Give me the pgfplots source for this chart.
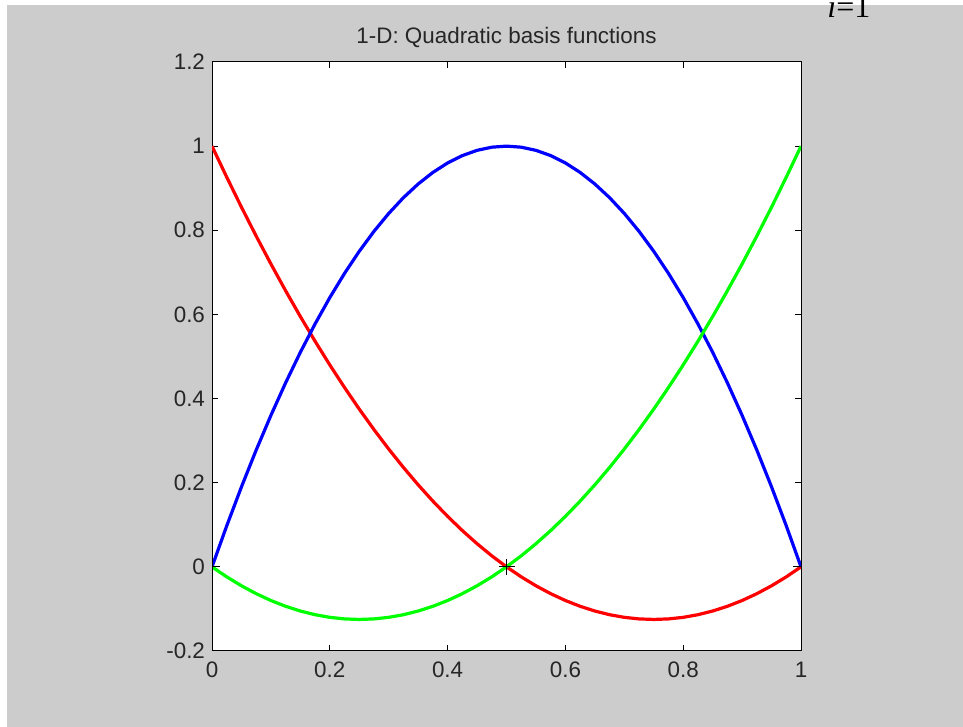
\documentclass[border=0pt]{standalone}
\usepackage{fontspec}
\setmainfont{Liberation Sans}
\newfontfamily\timesfont{Liberation Serif}
\usepackage{pgfplots}
\pgfplotsset{compat=1.18}
\definecolor{figgray}{HTML}{CCCCCC}
\definecolor{mred}{RGB}{255,0,0}
\definecolor{mblue}{RGB}{0,0,255}
\definecolor{mgreen}{RGB}{0,255,0}
\begin{document}
\begin{tikzpicture}[x=0.5pt,y=0.5pt]
\useasboundingbox (0,0) rectangle (963,727);
\clip (0,0) rectangle (963,727);
\fill[white] (0,0) rectangle (963,727);
\fill[figgray] (7,0) rectangle (963,722);
\begin{axis}[
  at={(106pt,38pt)}, anchor=south west,
  scale only axis, width=294.5pt, height=294.5pt,
  xmin=0, xmax=1, ymin=-0.2, ymax=1.2,
  axis background/.style={fill=white},
  axis line style={black, line width=0.5pt},
  xtick={0,0.2,0.4,0.6,0.8,1},
  xticklabels={0,0.2,0.4,0.6,0.8,1},
  ytick={-0.2,0,0.2,0.4,0.6,0.8,1,1.2},
  yticklabels={-0.2,0,0.2,0.4,0.6,0.8,1,1.2},
  tick align=inside, major tick length=3pt,
  tick style={black, line width=0.5pt},
  tick label style={font=\fontsize{11.2}{13}\selectfont, text=black!85},
  xticklabel style={yshift=-2pt},
  title={1-D: Quadratic basis functions},
  title style={font=\fontsize{11.2}{13}\selectfont, text=black!85, at={(0.5,1)}, anchor=base, yshift=3pt},
]
% red: 2(x-0.5)(x-1)
\addplot[mred, line width=1.6pt] coordinates {
(0,1)(0.025,0.92625)(0.05,0.855)(0.075,0.78625)(0.1,0.72)(0.125,0.65625)
(0.15,0.595)(0.175,0.53625)(0.2,0.48)(0.225,0.42625)(0.25,0.375)(0.275,0.32625)
(0.3,0.28)(0.325,0.23625)(0.35,0.195)(0.375,0.15625)(0.4,0.12)(0.425,0.08625)
(0.45,0.055)(0.475,0.02625)(0.5,0)(0.525,-0.02375)(0.55,-0.045)(0.575,-0.06375)
(0.6,-0.08)(0.625,-0.09375)(0.65,-0.105)(0.675,-0.11375)(0.7,-0.12)(0.725,-0.12375)
(0.75,-0.125)(0.775,-0.12375)(0.8,-0.12)(0.825,-0.11375)(0.85,-0.105)(0.875,-0.09375)
(0.9,-0.08)(0.925,-0.06375)(0.95,-0.045)(0.975,-0.02375)(1,0)};
% blue: 4x(1-x)
\addplot[mblue, line width=1.6pt] coordinates {
(0,0)(0.025,0.0975)(0.05,0.19)(0.075,0.2775)(0.1,0.36)(0.125,0.4375)
(0.15,0.51)(0.175,0.5775)(0.2,0.64)(0.225,0.6975)(0.25,0.75)(0.275,0.7975)
(0.3,0.84)(0.325,0.8775)(0.35,0.91)(0.375,0.9375)(0.4,0.96)(0.425,0.9775)
(0.45,0.99)(0.475,0.9975)(0.5,1)(0.525,0.9975)(0.55,0.99)(0.575,0.9775)
(0.6,0.96)(0.625,0.9375)(0.65,0.91)(0.675,0.8775)(0.7,0.84)(0.725,0.7975)
(0.75,0.75)(0.775,0.6975)(0.8,0.64)(0.825,0.5775)(0.85,0.51)(0.875,0.4375)
(0.9,0.36)(0.925,0.2775)(0.95,0.19)(0.975,0.0975)(1,0)};
% green: 2x(x-0.5)
\addplot[mgreen, line width=1.6pt] coordinates {
(0,0)(0.025,-0.02375)(0.05,-0.045)(0.075,-0.06375)(0.1,-0.08)(0.125,-0.09375)
(0.15,-0.105)(0.175,-0.11375)(0.2,-0.12)(0.225,-0.12375)(0.25,-0.125)(0.275,-0.12375)
(0.3,-0.12)(0.325,-0.11375)(0.35,-0.105)(0.375,-0.09375)(0.4,-0.08)(0.425,-0.06375)
(0.45,-0.045)(0.475,-0.02375)(0.5,0)(0.525,0.02625)(0.55,0.055)(0.575,0.08625)
(0.6,0.12)(0.625,0.15625)(0.65,0.195)(0.675,0.23625)(0.7,0.28)(0.725,0.32625)
(0.75,0.375)(0.775,0.42625)(0.8,0.48)(0.825,0.53625)(0.85,0.595)(0.875,0.65625)
(0.9,0.72)(0.925,0.78625)(0.95,0.855)(0.975,0.92625)(1,1)};
% nodes
\addplot[only marks, mark=+, mark size=4pt, black, line width=0.5pt, clip mode=individual]
  coordinates {(0,0)(0.5,0)(1,0)};
\end{axis}
\node[anchor=base west, inner sep=0pt, font=\timesfont\fontsize{16}{18}\selectfont] at (827,709) {\textit{i}=1};
\end{tikzpicture}
\end{document}
